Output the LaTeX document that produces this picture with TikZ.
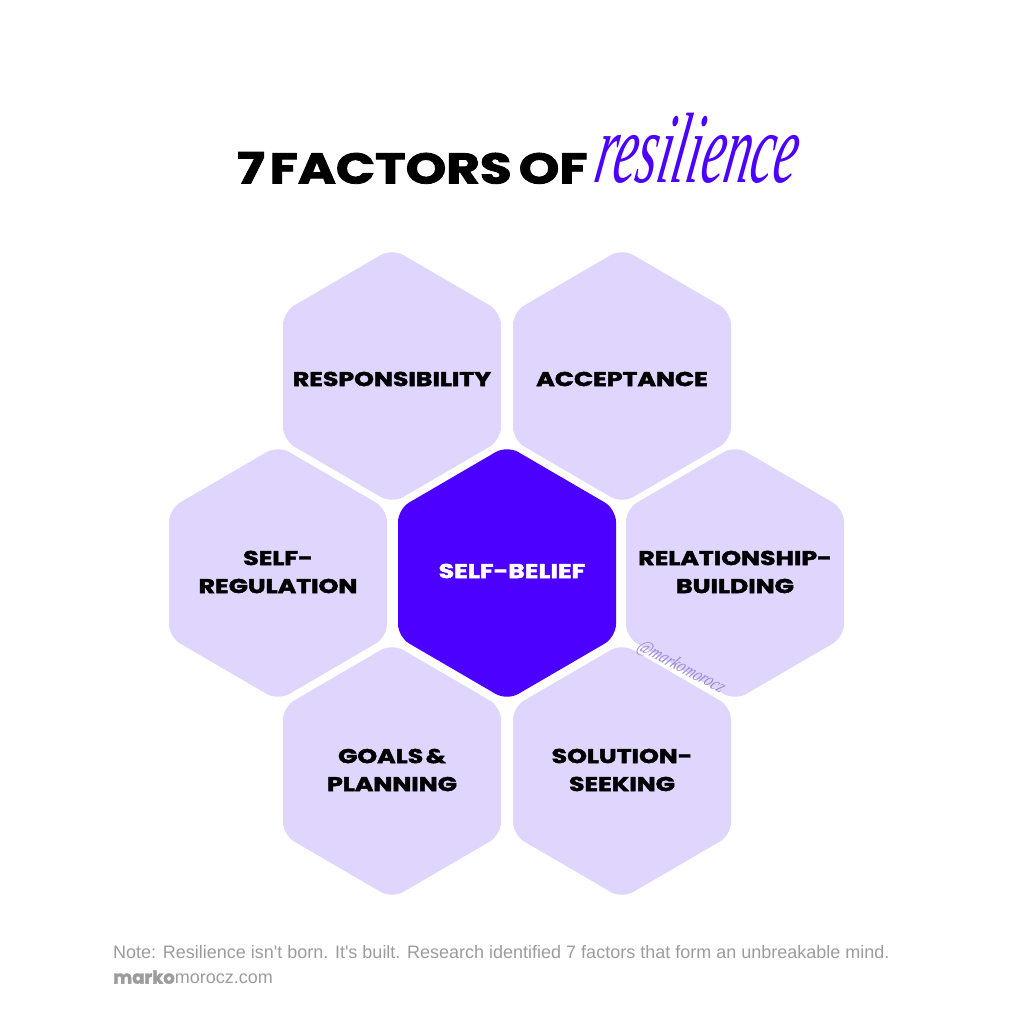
\documentclass[tikz,border=0pt]{standalone}
\usepackage{fontspec}
\setmainfont{Liberation Sans}
\newfontfamily\hv[BoldFeatures={FakeBold=2}]{Poppins}
\newfontfamily\nt{Liberation Sans}
\newfontfamily\scr[ItalicFeatures={FakeSlant=0.35}]{Liberation Serif}
\definecolor{lav}{HTML}{E0D5FD}
\definecolor{vio}{HTML}{4C00FF}
\definecolor{gry}{HTML}{9C9C9C}
\definecolor{wm}{HTML}{9A8AD6}
\tikzset{
  hexfill/.style={fill=lav,rounded corners=13pt},
  lab/.style={font=\hv\bfseries\fontsize{20}{28}\selectfont,align=center,text=black,inner sep=0pt,xscale=1.26},
  note/.style={font=\nt\color{gry}\fontsize{18}{18}\selectfont,anchor=west,inner sep=0pt}
}
\newcommand{\hexa}[3]{\fill[#3] (#1,#2-127.5) -- (#1+109,#2-64) -- (#1+109,#2+64) -- (#1,#2+127.5) -- (#1-109,#2+64) -- (#1-109,#2-64) -- cycle;}
\begin{document}
\begin{tikzpicture}[x=1pt,y=-1pt]
\useasboundingbox (0,0) rectangle (1024,1024);
\fill[white] (0,0) rectangle (1024,1024);
\hexa{392}{376}{hexfill}
\hexa{622}{376}{hexfill}
\hexa{278}{573}{hexfill}
\hexa{735}{573}{hexfill}
\hexa{392}{771}{hexfill}
\hexa{622}{771}{hexfill}
\hexa{507}{573}{hexfill,fill=vio}
\node[lab] (resp) at (392,379) {RESPONSIBILITY};
\node[lab] (acc) at (622,379) {ACCEPTANCE};
\node[lab] (reg) at (278,572) {SELF-\\REGULATION};
\node[lab,text=white] (bel) at (512,571) {SELF-BELIEF};
\node[lab] (rel) at (735,572) {RELATIONSHIP-\\BUILDING};
\node[lab] (goal) at (392,770) {GOALS\hspace{2pt}\&\\PLANNING};
\node[lab] (sol) at (622,770) {SOLUTION-\\SEEKING};
\node[font=\hv\bfseries\fontsize{43}{43}\selectfont,anchor=west,inner sep=0pt,xscale=1.2] (t1) at (237,168) {7\hspace{4pt}FACTORS\hspace{6pt}OF};
\node[font=\scr\itshape\fontsize{100}{100}\selectfont,text=vio,anchor=base west,inner sep=0pt,xscale=0.525] (t2) at (592,183) {resilience};
\node[font=\scr\itshape\fontsize{19}{19}\selectfont,text=wm,rotate=-27,inner sep=0pt,xscale=0.78] (wmk) at (680,667) {@markomorocz};
\node[note] (n1) at (113,952) {Note: Resilience isn't born. It's built. Research identified 7 factors that form an unbreakable mind.};
\node[note] (n2) at (113,977) {{\hv\bfseries marko}morocz.com};
\end{tikzpicture}
\end{document}
